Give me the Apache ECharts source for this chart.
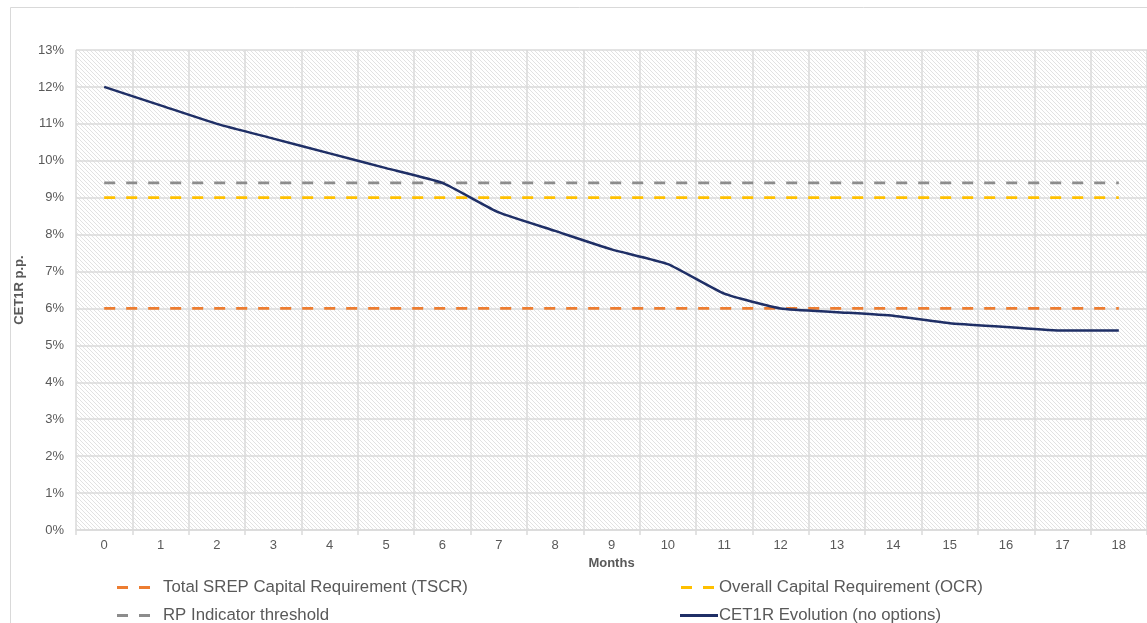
<!DOCTYPE html>
<html>
<head>
<meta charset="utf-8">
<script src="https://cdn.jsdelivr.net/npm/echarts@6/dist/echarts.min.js"></script>
<style>
  html, body { margin: 0; padding: 0; background: #ffffff; }
  #chart { width: 1147px; height: 623px; }
</style>
</head>
<body>
<div id="chart"></div>
<script>
// Months since the start of the projection
const months = ['0','1','2','3','4','5','6','7','8','9','10','11','12','13','14','15','16','17','18'];

// CET1 ratio path, in percent
const cet1r = [12.0, 11.5, 11.0, 10.6, 10.2, 9.8, 9.4, 8.6, 8.1, 7.6, 7.2, 6.4, 6.0, 5.9, 5.8, 5.6, 5.5, 5.4, 5.4];

// Capital requirement levels, in percent
const tscr = [6, 6, 6, 6, 6, 6, 6, 6, 6, 6, 6, 6, 6, 6, 6, 6, 6, 6, 6];
const ocr  = [9, 9, 9, 9, 9, 9, 9, 9, 9, 9, 9, 9, 9, 9, 9, 9, 9, 9, 9];
const rpThreshold = [9.4, 9.4, 9.4, 9.4, 9.4, 9.4, 9.4, 9.4, 9.4, 9.4, 9.4, 9.4, 9.4, 9.4, 9.4, 9.4, 9.4, 9.4, 9.4];

const seriesNames = [
  'Total SREP Capital Requirement (TSCR)',
  'Overall Capital Requirement (OCR)',
  'RP Indicator threshold',
  'CET1R Evolution (no options)'
];

// Diagonal hatch used as the plot background
function makeHatch() {
  const c = document.createElement('canvas');
  c.width = 4; c.height = 4;
  const g = c.getContext('2d');
  g.fillStyle = '#ffffff';
  g.fillRect(0, 0, 4, 4);
  g.strokeStyle = '#e2e2e2';
  g.lineWidth = 1;
  g.beginPath();
  g.moveTo(-1, -1); g.lineTo(5, 5);
  g.moveTo(-1, 3); g.lineTo(1, 5);
  g.moveTo(3, -1); g.lineTo(5, 1);
  g.stroke();
  return c;
}

const textColor = '#595959';
const gridColor = '#dadada';
const font = 'Liberation Sans, Arial, sans-serif';

// Legend icons: two short dashes, or one solid bar
const dashIcon = 'path://M0,0h11v3h-11zM22,0h11v3h-11z';
const solidIcon = 'path://M0,0h38v3h-38z';

const chart = echarts.init(document.getElementById('chart'), null, { renderer: 'canvas' });

function dashed(name, data, color) {
  return {
    name: name,
    type: 'line',
    data: data,
    symbol: 'none',
    silent: true,
    lineStyle: { color: color, width: 2.8, type: [11, 11] },
    itemStyle: { color: color }
  };
}

function legendItem(name, icon, left, top, width, padLeft) {
  return {
    left: left,
    top: top,
    padding: 0,
    itemWidth: width,
    itemHeight: 3,
    data: [{ name: name, icon: icon }],
    textStyle: { color: textColor, fontSize: 16.8, fontFamily: font, padding: [0, 0, 0, padLeft] }
  };
}

chart.setOption({
  animation: false,
  backgroundColor: '#ffffff',
  graphic: [{
    type: 'rect',
    shape: { x: 10.5, y: 7.5, width: 1300, height: 800 },
    style: { fill: 'none', stroke: '#d9d9d9', lineWidth: 1 },
    silent: true,
    z: -10
  }],
  grid: {
    show: true,
    left: 76,
    top: 50,
    width: 1079,
    height: 480,
    borderWidth: 0,
    backgroundColor: { image: makeHatch(), repeat: 'repeat' }
  },
  legend: [
    legendItem(seriesNames[0], dashIcon, 117, 579, 33, 8),
    legendItem(seriesNames[2], dashIcon, 117, 607, 33, 8),
    legendItem(seriesNames[1], dashIcon, 681, 579, 33, 0),
    legendItem(seriesNames[3], solidIcon, 680, 607, 38, -4)
  ],
  xAxis: {
    type: 'category',
    data: months,
    boundaryGap: true,
    name: 'Months',
    nameLocation: 'middle',
    nameGap: 26,
    nameTextStyle: { color: textColor, fontSize: 13, fontWeight: 'bold', fontFamily: font },
    axisLine: { show: true, lineStyle: { color: gridColor, width: 1.5 } },
    axisTick: { show: true, length: 5, lineStyle: { color: gridColor, width: 1.5 } },
    axisLabel: { color: textColor, fontSize: 13, fontFamily: font, margin: 9 },
    splitLine: { show: true, lineStyle: { color: gridColor, width: 1.5 } }
  },
  yAxis: {
    type: 'value',
    min: 0,
    max: 13,
    interval: 1,
    name: 'CET1R p.p.',
    nameLocation: 'middle',
    nameGap: 50,
    nameTextStyle: { color: textColor, fontSize: 13, fontWeight: 'bold', fontFamily: font },
    axisLine: { show: false },
    axisTick: { show: false },
    axisLabel: { color: textColor, fontSize: 13, fontFamily: font, margin: 12, formatter: '{value}%' },
    splitLine: { show: true, lineStyle: { color: gridColor, width: 1.5 } }
  },
  series: [
    dashed(seriesNames[0], tscr, '#ED7D31'),
    dashed(seriesNames[1], ocr, '#FFC000'),
    dashed(seriesNames[2], rpThreshold, '#8C8C8C'),
    {
      name: seriesNames[3],
      type: 'line',
      data: cet1r,
      symbol: 'none',
      smooth: 0.15,
      lineStyle: { color: '#1F2F66', width: 2.5 },
      itemStyle: { color: '#1F2F66' },
      z: 5
    }
  ]
});
</script>
</body>
</html>
